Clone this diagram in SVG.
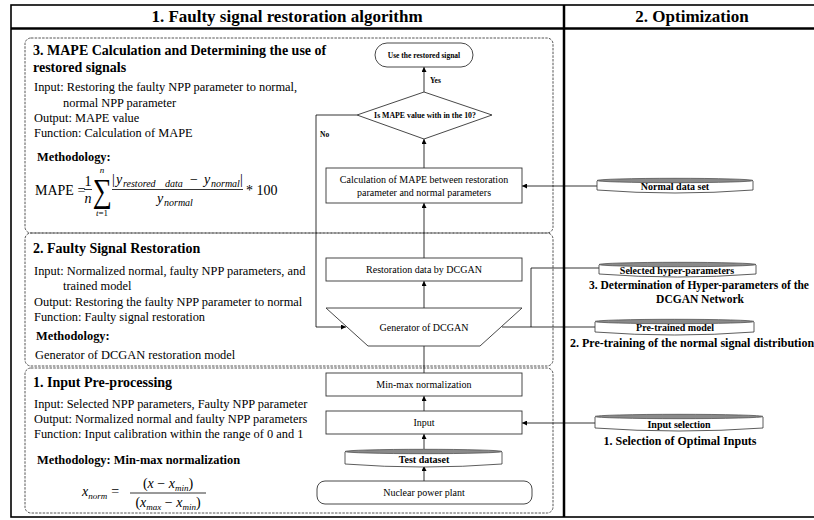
<svg xmlns="http://www.w3.org/2000/svg" width="814" height="520" viewBox="0 0 814 520">
<style>
.t{font-family:"Liberation Serif","Times New Roman",serif;fill:#000}
.b{font-weight:bold}
.i{font-style:italic}
.body{font-size:12.4px}
.h2{font-size:14px;font-weight:bold}
.fc{font-size:10px}
.ln{stroke:#000;stroke-width:0.8;fill:none}
.box{fill:#fff;stroke:#333;stroke-width:0.9}
.sec{fill:none;stroke:#555;stroke-width:1;stroke-dasharray:2.5 1.2}
.dbb{fill:#fff;stroke:#333;stroke-width:0.8}
.dbt{fill:#8a8a8a;stroke:#444;stroke-width:0.7}
</style>
<defs>
<marker id="ah" markerWidth="5" markerHeight="5" refX="5" refY="2.5" orient="auto" markerUnits="userSpaceOnUse">
<path d="M0,0 L5,2.5 L0,5 z" fill="#000"/>
</marker>
</defs>
<rect width="814" height="520" fill="#fff"/>

<!-- frame -->
<g id="frame">
<rect x="11" y="5" width="810" height="512" fill="none" stroke="#000" stroke-width="1.6"/>
<line x1="11" y1="28.5" x2="814" y2="28.5" stroke="#000" stroke-width="2.5"/>
<line x1="564" y1="5" x2="564" y2="517" stroke="#000" stroke-width="2.5"/>
<text class="t b" x="287" y="22" font-size="17" text-anchor="middle">1. Faulty signal restoration algorithm</text>
<text class="t b" x="692" y="22" font-size="17" text-anchor="middle">2. Optimization</text>
</g>

<!-- section boxes -->
<g id="sec3">
<rect class="sec" x="25" y="38" width="528" height="195" rx="6"/>
<text class="t h2" x="33" y="55">3. MAPE Calculation and Determining the use of</text>
<text class="t h2" x="33" y="72">restored signals</text>
<text class="t body" x="34" y="91">Input: Restoring the faulty NPP parameter to normal,</text>
<text class="t body" x="63" y="107">normal NPP parameter</text>
<text class="t body" x="34" y="122">Output: MAPE value</text>
<text class="t body" x="34" y="137">Function: Calculation of MAPE</text>
<text class="t body b" x="37" y="161">Methodology:</text>
<g id="mape-formula">
<text class="t" x="35" y="195" font-size="14">MAPE =</text>
<text class="t" x="88" y="186" font-size="14" text-anchor="middle">1</text>
<line x1="84" y1="189.5" x2="92" y2="189.5" stroke="#000" stroke-width="0.8"/>
<text class="t i" x="88" y="203" font-size="14" text-anchor="middle">n</text>
<text class="t i" x="102" y="173" font-size="9" text-anchor="middle">n</text>
<text class="t" transform="translate(102,202) scale(1,1.25)" font-size="27" text-anchor="middle">∑</text>
<text class="t" x="102" y="216" font-size="9" text-anchor="middle"><tspan class="i">t</tspan>=1</text>
<text class="t" x="112" y="184" font-size="14">|</text>
<text class="t i" x="116" y="184" font-size="14">y</text>
<text class="t i" x="123" y="187" font-size="10">restored</text>
<text class="t i" x="165" y="187" font-size="10">data</text>
<text class="t" x="190" y="184" font-size="14">−</text>
<text class="t i" x="204" y="184" font-size="14">y</text>
<text class="t i" x="211" y="187" font-size="10">normal</text>
<text class="t" x="240" y="184" font-size="14">|</text>
<line x1="112" y1="189.5" x2="243" y2="189.5" stroke="#000" stroke-width="0.8"/>
<text class="t i" x="157" y="203" font-size="14">y</text>
<text class="t i" x="164" y="206" font-size="10">normal</text>
<text class="t" x="246" y="195" font-size="14">* 100</text>
</g>
</g>

<g id="sec2">
<rect class="sec" x="25" y="233" width="528" height="133" rx="6"/>
<text class="t h2" x="33" y="253">2. Faulty Signal Restoration</text>
<text class="t body" x="34" y="275">Input: Normalized normal, faulty NPP parameters, and</text>
<text class="t body" x="63" y="290">trained model</text>
<text class="t body" x="34" y="306">Output: Restoring the faulty NPP parameter to normal</text>
<text class="t body" x="34" y="321">Function: Faulty signal restoration</text>
<text class="t body b" x="36" y="340">Methodology:</text>
<text class="t body" x="35" y="359">Generator of DCGAN restoration model</text>
</g>

<g id="sec1">
<rect class="sec" x="25" y="368" width="528" height="145" rx="6"/>
<text class="t h2" x="33" y="387">1. Input Pre-processing</text>
<text class="t body" x="34" y="408">Input: Selected NPP parameters, Faulty NPP parameter</text>
<text class="t body" x="34" y="423">Output: Normalized normal and faulty NPP parameters</text>
<text class="t body" x="34" y="438">Function: Input calibration within the range of 0 and 1</text>
<text class="t body b" x="37" y="464">Methodology: Min-max normalization</text>
<g id="norm-formula">
<text class="t" x="82" y="496" font-size="14"><tspan class="i">x</tspan><tspan class="i" font-size="9" dy="3">norm</tspan><tspan dy="-3" dx="4">=</tspan></text>
<text class="t" x="168" y="488" font-size="14" text-anchor="middle">(<tspan class="i">x</tspan> − <tspan class="i">x</tspan><tspan class="i" font-size="9" dy="3">min</tspan><tspan dy="-3">)</tspan></text>
<line x1="130" y1="493" x2="206" y2="493" stroke="#000" stroke-width="0.8"/>
<text class="t" x="168" y="507" font-size="14" text-anchor="middle">(<tspan class="i">x</tspan><tspan class="i" font-size="9" dy="3">max</tspan><tspan dy="-3"> − </tspan><tspan class="i">x</tspan><tspan class="i" font-size="9" dy="3">min</tspan><tspan dy="-3">)</tspan></text>
</g>
</g>

<!-- connectors -->
<g id="connectors">
<line class="ln" x1="424" y1="92" x2="424" y2="67" marker-end="url(#ah)"/>
<line class="ln" x1="424" y1="168" x2="424" y2="139" marker-end="url(#ah)"/>
<line class="ln" x1="424" y1="258" x2="424" y2="203" marker-end="url(#ah)"/>
<line class="ln" x1="424" y1="308" x2="424" y2="281" marker-end="url(#ah)"/>
<line class="ln" x1="424" y1="373" x2="424" y2="346"/>
<line class="ln" x1="424" y1="411" x2="424" y2="396" marker-end="url(#ah)"/>
<line class="ln" x1="424" y1="449" x2="424" y2="434" marker-end="url(#ah)"/>
<line class="ln" x1="424" y1="481" x2="424" y2="466" marker-end="url(#ah)"/>
<polyline class="ln" points="357,115 316,115 316,327 346,327" marker-end="url(#ah)"/>
<line class="ln" x1="597" y1="186" x2="522" y2="186" marker-end="url(#ah)"/>
<polyline class="ln" points="599,268 531,268 531,327"/>
<line class="ln" x1="595" y1="327" x2="502" y2="327"/>
<line class="ln" x1="595" y1="423" x2="522" y2="423" marker-end="url(#ah)"/>
<text class="t b" x="430" y="83" font-size="7.5">Yes</text>
<text class="t b" x="320" y="137" font-size="7.5">No</text>
</g>

<!-- flowchart nodes -->
<g id="use-restored">
<rect class="box" x="375" y="43" width="98" height="24" rx="12"/>
<text class="t b" x="424" y="58" font-size="7.5" text-anchor="middle">Use the restored signal</text>
</g>
<g id="mape-decision">
<polygon class="box" points="424,92 492,115 424,139 357,115"/>
<text class="t b" x="425" y="118" font-size="7.8" text-anchor="middle">Is MAPE value with in the 10?</text>
</g>
<g id="calc-mape">
<rect class="box" x="326" y="168" width="196" height="35"/>
<text class="t fc" x="424" y="183" text-anchor="middle">Calculation of MAPE between restoration</text>
<text class="t fc" x="424" y="196" text-anchor="middle">parameter and normal parameters</text>
</g>
<g id="restoration-data">
<rect class="box" x="326" y="258" width="196" height="23"/>
<text class="t fc" x="424" y="273" text-anchor="middle">Restoration data by DCGAN</text>
</g>
<g id="generator">
<polygon class="box" points="326,308 522,308 480,346 368,346"/>
<text class="t fc" x="424" y="331" text-anchor="middle">Generator of DCGAN</text>
</g>
<g id="minmax">
<rect class="box" x="326" y="373" width="196" height="23"/>
<text class="t fc" x="424" y="388" text-anchor="middle">Min-max normalization</text>
</g>
<g id="input">
<rect class="box" x="326" y="411" width="196" height="23"/>
<text class="t fc" x="424" y="426" text-anchor="middle">Input</text>
</g>
<g id="test-dataset">
<path class="dbb" d="M345,452 L345,464 Q423.5,470 502,464 L502,452"/>
<ellipse class="dbt" cx="423.5" cy="451.5" rx="78.5" ry="2.2"/>
<text class="t b" x="424" y="463" font-size="10" text-anchor="middle">Test dataset</text>
</g>
<g id="npp">
<rect class="box" x="317" y="481" width="215" height="23" rx="8"/>
<text class="t fc" x="424" y="496" text-anchor="middle">Nuclear power plant</text>
</g>

<!-- optimization side -->
<g id="normal-data-set">
<path class="dbb" d="M597,181 L597,190 Q675,196 753,190 L753,181"/>
<ellipse class="dbt" cx="675" cy="180.5" rx="78" ry="2.2"/>
<text class="t b" x="675" y="190" font-size="10" text-anchor="middle">Normal data set</text>
</g>
<g id="hyper-params">
<path class="dbb" d="M599,265 L599,274 Q677.5,280 756,274 L756,265"/>
<ellipse class="dbt" cx="677.5" cy="264.5" rx="78.5" ry="2.2"/>
<text class="t b" x="677" y="274" font-size="10" text-anchor="middle">Selected hyper-parameters</text>
<text class="t b" x="699" y="289" font-size="11.5" text-anchor="middle">3. Determination of Hyper-parameters of the</text>
<text class="t b" x="700" y="303" font-size="11.5" text-anchor="middle">DCGAN Network</text>
</g>
<g id="pretrained">
<path class="dbb" d="M595,322 L595,332 Q674.5,338 754,332 L754,322"/>
<ellipse class="dbt" cx="674.5" cy="321.5" rx="79.5" ry="2.2"/>
<text class="t b" x="675" y="331" font-size="10" text-anchor="middle">Pre-trained model</text>
<text class="t b" x="570" y="347" font-size="12">2. Pre-training of the normal signal distribution</text>
</g>
<g id="input-selection">
<path class="dbb" d="M595,417 L595,428 Q679,434 763,428 L763,417"/>
<ellipse class="dbt" cx="679" cy="416.5" rx="84" ry="2.2"/>
<text class="t b" x="679" y="428" font-size="10" text-anchor="middle">Input selection</text>
<text class="t b" x="680" y="445" font-size="12" text-anchor="middle">1. Selection of Optimal Inputs</text>
</g>
</svg>
